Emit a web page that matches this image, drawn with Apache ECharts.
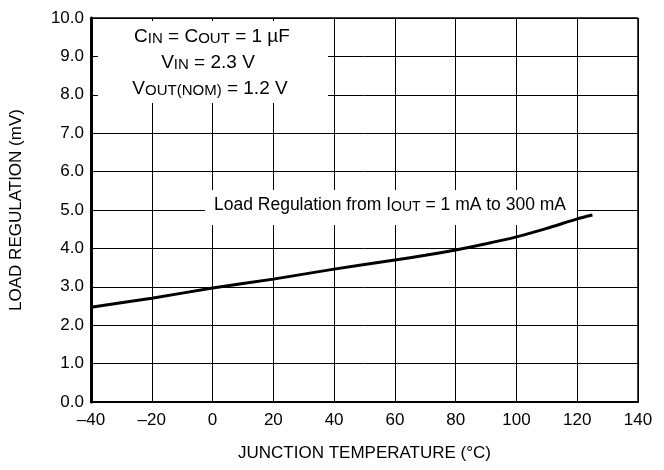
<!DOCTYPE html>
<html>
<head>
<meta charset="utf-8">
<script src="https://cdn.jsdelivr.net/npm/echarts@6/dist/echarts.min.js"></script>
<style>
  html, body { margin: 0; padding: 0; background: #fff; }
  #chart { width: 664px; height: 470px; }
</style>
</head>
<body>
<div id="chart"></div>
<script>
// junction temperature (°C) vs load regulation (mV)
const temps = [-40, -20, 0, 20, 40, 60, 70, 80, 90, 100, 110, 120, 125];
const loadReg = [2.47, 2.70, 2.97, 3.20, 3.46, 3.70, 3.82, 3.96, 4.12, 4.30, 4.52, 4.77, 4.87];

const FONT = '"Liberation Sans", Arial, sans-serif';

const chart = echarts.init(document.getElementById('chart'), null, { renderer: 'canvas' });

const sub = { fontSize: 14, fontFamily: FONT, color: '#000', verticalAlign: 'bottom' };
const main = { fontSize: 17.5, fontFamily: FONT, color: '#000' };
const subBig = { fontSize: 15, fontFamily: FONT, color: '#000', verticalAlign: 'bottom' };
const mainBig = { fontSize: 19, fontFamily: FONT, color: '#000' };

chart.setOption({
  animation: false,
  backgroundColor: '#fff',
  grid: { left: 90, right: 26, top: 18, bottom: 68, show: false },
  xAxis: {
    type: 'value',
    min: -40,
    max: 140,
    interval: 20,
    name: 'JUNCTION TEMPERATURE (°C)',
    nameLocation: 'middle',
    nameGap: 43,
    nameTextStyle: { fontSize: 17, fontFamily: FONT, color: '#000' },
    axisLine: { show: true, onZero: false, lineStyle: { color: '#000', width: 2 } },
    axisTick: { show: false },
    axisLabel: {
      fontSize: 17, fontFamily: FONT, color: '#000', margin: 10,
      formatter: (v) => String(v).replace('-', '\u2013')
    },
    splitLine: { show: true, lineStyle: { color: '#000', width: 1 } }
  },
  yAxis: {
    type: 'value',
    min: 0,
    max: 10,
    interval: 1,
    name: 'LOAD REGULATION (mV)',
    nameLocation: 'middle',
    nameGap: 66,
    nameTextStyle: { fontSize: 17, fontFamily: FONT, color: '#000' },
    axisLine: { show: true, onZero: false, lineStyle: { color: '#000', width: 3 } },
    axisTick: { show: false },
    axisLabel: {
      fontSize: 17, fontFamily: FONT, color: '#000', margin: 7,
      formatter: (v) => v.toFixed(1)
    },
    splitLine: { show: true, lineStyle: { color: '#000', width: 1 } }
  },
  graphic: [
    { type: 'rect', z: 1, shape: { x: 98, y: 21, width: 230, height: 82 }, style: { fill: '#fff' } },
    { type: 'rect', z: 1, shape: { x: 205, y: 190, width: 372, height: 35 }, style: { fill: '#fff' } },
    {
      type: 'text', z: 2, x: 212, y: 27,
      style: {
        text: '{m|C}{s|IN}{m| = C}{s|OUT}{m| = 1 µF}',
        textAlign: 'center',
        rich: { m: mainBig, s: subBig }
      }
    },
    {
      type: 'text', z: 2, x: 208, y: 53,
      style: {
        text: '{m|V}{s|IN}{m| = 2.3 V}',
        textAlign: 'center',
        rich: { m: mainBig, s: subBig }
      }
    },
    {
      type: 'text', z: 2, x: 210, y: 79,
      style: {
        text: '{m|V}{s|OUT(NOM)}{m| = 1.2 V}',
        textAlign: 'center',
        rich: { m: mainBig, s: subBig }
      }
    },
    {
      type: 'text', z: 2, x: 390, y: 196,
      style: {
        text: '{m|Load Regulation from I}{s|OUT}{m| = 1 mA to 300 mA}',
        textAlign: 'center',
        rich: { m: main, s: sub }
      }
    }
  ],
  series: [
    {
      type: 'line',
      z: 5,
      data: temps.map((t, i) => [t, loadReg[i]]),
      showSymbol: false,
      smooth: 0.2,
      lineStyle: { color: '#000', width: 3 }
    },
    {
      // frame on the right and top
      type: 'line',
      z: 4,
      data: [],
      markLine: {
        silent: true,
        symbol: 'none',
        label: { show: false },
        lineStyle: { color: '#000', width: 1.5, type: 'solid' },
        data: [{ xAxis: 140 }, { yAxis: 10 }]
      }
    }
  ]
});
</script>
</body>
</html>
